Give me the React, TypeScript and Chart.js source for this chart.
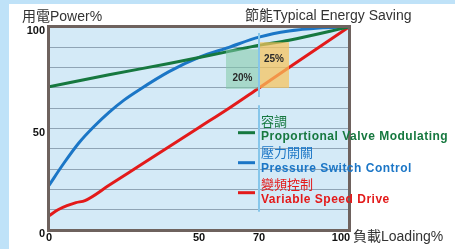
import React, { useEffect, useRef } from 'react';
import { Chart, registerables } from 'chart.js';

Chart.register(...registerables);

// ---- data ----
const loadTicks = [0, 50, 70, 100];
const powerTicks = [0, 50, 100];

const greenLoad = [0, 20, 40, 60, 70, 80, 100];
const greenPower = [70.5, 76.5, 82, 88, 91, 93.5, 100];

const blueLoad = [0, 5, 10, 15, 20, 25, 30, 40, 50, 60, 70, 80, 90, 100];
const bluePower = [22, 33, 43, 51, 58, 64, 69, 78, 85, 90, 95, 98, 99.5, 100];

const redLoad = [0, 3, 6, 9, 12, 20, 30, 40, 50, 60, 70, 80, 90, 100];
const redPower = [7, 10, 12, 13.5, 14.5, 22, 31.5, 41, 50.5, 60, 70, 80, 90, 100];

const savingLabels = ['20%', '25%'];
const savingFrom = [59, 70];
const savingTo = [70, 80];
const savingLow = [69.5, 70];
const savingHigh = [89, 92.5];
const savingTextY = [75, 84];

const markerLoad = 70;

const seriesZh = ['容調', '壓力開關', '變頻控制'];
const seriesEn = ['Proportional Valve Modulating', 'Pressure Switch Control', 'Variable Speed Drive'];
const seriesColors = ['#16783f', '#1b76c6', '#e31a1a'];

const yTitle = '用電Power%';
const topTitle = '節能Typical Energy Saving';
const xTitle = '負載Loading%';

const FONT = '"Liberation Sans", Arial, "Noto Sans CJK TC", sans-serif';

const pts = (xs: number[], ys: number[]) => xs.map((x, i) => ({ x, y: ys[i] }));

const decorPlugin = {
  id: 'decor',
  beforeDraw(chart: any) {
    const { ctx, width, height, chartArea } = chart;
    ctx.save();
    ctx.fillStyle = '#bfe2f8';
    ctx.fillRect(0, 0, width, height);
    ctx.fillStyle = '#ffffff';
    ctx.fillRect(9, 4, width - 9, height - 4);
    ctx.fillStyle = '#d4eaf7';
    ctx.fillRect(chartArea.left, chartArea.top, chartArea.right - chartArea.left, chartArea.bottom - chartArea.top);
    ctx.restore();
  },
  afterDatasetsDraw(chart: any) {
    const { ctx, chartArea } = chart;
    const xs = chart.scales.x;
    const ys = chart.scales.y;
    ctx.save();
    // saving rectangles
    const rectColors = ['rgba(130,200,165,0.55)', 'rgba(248,196,90,0.72)'];
    savingLabels.forEach((lab, i) => {
      const x0 = xs.getPixelForValue(savingFrom[i]);
      const x1 = xs.getPixelForValue(savingTo[i]);
      const y0 = ys.getPixelForValue(savingHigh[i]);
      const y1 = ys.getPixelForValue(savingLow[i]);
      ctx.fillStyle = rectColors[i];
      ctx.fillRect(x0, y0, x1 - x0, y1 - y0);
    });
    ctx.fillStyle = '#2a2a2a';
    ctx.font = 'bold 10px ' + FONT;
    ctx.textAlign = 'center';
    ctx.textBaseline = 'middle';
    savingLabels.forEach((lab, i) => {
      const cx = xs.getPixelForValue((savingFrom[i] + savingTo[i]) / 2);
      ctx.fillText(lab, cx, ys.getPixelForValue(savingTextY[i]));
    });
    // vertical marker line at 70%
    const mx = xs.getPixelForValue(markerLoad);
    ctx.strokeStyle = '#86c6ea';
    ctx.lineWidth = 2;
    ctx.beginPath();
    ctx.moveTo(mx, ys.getPixelForValue(97));
    ctx.lineTo(mx, ys.getPixelForValue(65.5));
    ctx.moveTo(mx, ys.getPixelForValue(61.5));
    ctx.lineTo(mx, ys.getPixelForValue(9));
    ctx.stroke();
    // frame
    ctx.strokeStyle = '#6e625e';
    ctx.lineWidth = 3;
    ctx.strokeRect(chartArea.left - 0.5, chartArea.top - 0.5, chartArea.right - chartArea.left + 1, chartArea.bottom - chartArea.top + 1);
    // tick labels
    ctx.fillStyle = '#111';
    ctx.font = 'bold 11px ' + FONT;
    ctx.textAlign = 'right';
    powerTicks.forEach((v) => {
      ctx.fillText(String(v), 45, ys.getPixelForValue(v) + 4);
    });
    ctx.textAlign = 'center';
    loadTicks.forEach((v) => {
      const off = v === 100 ? -8 : 0;
      ctx.fillText(String(v), xs.getPixelForValue(v) + off, chartArea.bottom + 8);
    });
    // titles
    ctx.fillStyle = '#333';
    ctx.font = '14px ' + FONT;
    ctx.textAlign = 'left';
    ctx.fillText(yTitle, 22, 17.5);
    ctx.fillText(topTitle, 245, 16);
    ctx.fillText(xTitle, 353, 237.5);
    // legend
    seriesZh.forEach((zh, i) => {
      const base = 122 + i * 31.5;
      const my = 132.7 + i * 30;
      ctx.strokeStyle = seriesColors[i];
      ctx.lineWidth = 3;
      ctx.beginPath();
      ctx.moveTo(238, my);
      ctx.lineTo(255, my);
      ctx.stroke();
      ctx.fillStyle = seriesColors[i];
      ctx.font = '13px ' + FONT;
      ctx.fillText(zh, 261, base);
      ctx.font = 'bold 12px ' + FONT;
      (ctx as any).letterSpacing = '0.5px';
      ctx.fillText(seriesEn[i], 261, base + 14.7);
      (ctx as any).letterSpacing = '0px';
    });
    ctx.restore();
  },
};

export default function App() {
  const ref = useRef<HTMLCanvasElement>(null);
  useEffect(() => {
    if (!ref.current) return;
    const line = (data: any, color: string) => ({
      data,
      borderColor: color,
      borderWidth: 3,
      pointRadius: 0,
      fill: false,
      cubicInterpolationMode: 'monotone' as const,
    });
    const chart = new Chart(ref.current, {
      type: 'line',
      data: {
        datasets: [
          line(pts(greenLoad, greenPower), seriesColors[0]),
          line(pts(blueLoad, bluePower), seriesColors[1]),
          line(pts(redLoad, redPower), seriesColors[2]),
        ],
      },
      options: {
        responsive: false,
        animation: false,
        events: [],
        layout: { padding: { left: 49, right: 106, top: 27, bottom: 19 } },
        plugins: { legend: { display: false }, tooltip: { enabled: false } },
        scales: {
          x: { type: 'linear', min: 0, max: 100, display: false },
          y: {
            type: 'linear',
            min: 0,
            max: 100,
            ticks: { stepSize: 10, display: false },
            grid: { color: '#8fa4b5', lineWidth: 1, drawTicks: false },
            border: { display: false },
            afterFit: (s: any) => {
              s.width = 0;
            },
          },
        },
      },
      plugins: [decorPlugin],
    });
    return () => chart.destroy();
  }, []);
  return (
    <div style={{ position: 'absolute', left: 0, top: 0, width: 455, height: 249 }}>
      <canvas ref={ref} width={455} height={249} style={{ display: 'block' }} />
    </div>
  );
}
